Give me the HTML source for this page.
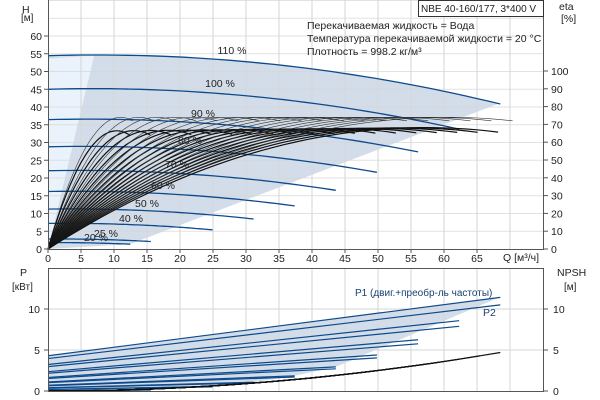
<!DOCTYPE html>
<html><head><meta charset="utf-8"><style>
body{margin:0;background:#fff;}
svg{display:block;font-family:"Liberation Sans",sans-serif;}
text{font-size:10.5px;fill:#222;}
</style></head><body>
<svg id="s" width="600" height="400" viewBox="0 0 600 400" xmlns="http://www.w3.org/2000/svg"></svg>
<script>
const S=document.getElementById('s');
let h='';
const X=q=>48+q*6.6, Y=H=>249-H*3.55, E=e=>249-e*1.78, P=p=>391-p*8.2;
const Hf=(q,s)=>s*s*45+0.05*s*q-0.0037*q*q;
const sp=[1.1,1,0.9,0.8,0.7,0.6,0.5,0.4,0.25,0.2];
let poly=[];
for(let q=0;q<=68.5;q+=1)poly.push([X(q),Y(Hf(q,1.1))]);
poly.push([X(68.3),Y(Hf(68.3,1.1))]);
poly.push([X(12.4),Y(Hf(12.4,0.2))]);
poly.push([X(0),Y(0)]);
h+=`<polygon points="${poly.map(p=>p.join(',')).join(' ')}" fill="#d2dde9"/>`;
h+=`<polygon points="${X(0)},${Y(0)} ${X(0)},${Y(53.6)} ${X(7)},${Y(54.5)}" fill="#eaf3fc"/>`;
for(let q=5;q<=70;q+=5)h+=`<line x1="${X(q)}" y1="0" x2="${X(q)}" y2="249" stroke="#d6d6d6"/>`;
for(let H=5;H<=70;H+=5)h+=`<line x1="48" y1="${Y(H)}" x2="543" y2="${Y(H)}" stroke="#d6d6d6" stroke-opacity="0.7"/>`;
sp.forEach(s=>{let d='';const qe=62.3*s;for(let i=0;i<=40;i++){const q=qe*i/40;d+=(i?'L':'M')+X(q).toFixed(1)+','+Y(Hf(q,s)).toFixed(1);}
h+=`<path d="${d}" fill="none" stroke="#0d4a8c" stroke-width="1.3"/>`;});
for(let s=0.2;s<=1.101;s+=0.05){
 [[74,0.6,'#333'],[66+2*s,1.2,'#111']].forEach(([em,w,c],k)=>{
  const qp=(k?52:55)*s, qe=(k?62:64)*s;let d='';
  for(let i=0;i<=40;i++){const q=qe*i/40;const t=q/qp;const e=em*(1-(1-t)*(1-t));d+=(i?'L':'M')+X(q).toFixed(1)+','+E(e).toFixed(1);}
  h+=`<path d="${d}" fill="none" stroke="${c}" stroke-width="${w}"/>`;});
}
h+=`<line x1="48.5" y1="0" x2="48.5" y2="249" stroke="#555"/><line x1="48" y1="249.5" x2="544" y2="249.5" stroke="#555"/><line x1="543.5" y1="0" x2="543.5" y2="249" stroke="#555"/>`;
for(let q=0;q<=65;q+=5){h+=`<line x1="${X(q)}" y1="249" x2="${X(q)}" y2="253" stroke="#555"/><text x="${X(q)}" y="262" text-anchor="middle">${q}</text>`;}
for(let H=0;H<=60;H+=5){h+=`<line x1="44" y1="${Y(H)}" x2="48" y2="${Y(H)}" stroke="#555"/><text x="42" y="${Y(H)+4}" text-anchor="end">${H}</text>`;}
for(let e=0;e<=100;e+=10){h+=`<line x1="543" y1="${E(e)}" x2="548" y2="${E(e)}" stroke="#555"/><text x="551" y="${E(e)+4}">${e}</text>`;}
h+=`<text x="22" y="13">H</text><text x="21" y="21" style="font-size:10px">[м]</text>`;
h+=`<text x="559" y="10">eta</text><text x="561" y="22">[%]</text>`;
h+=`<text x="503" y="261">Q [м³/ч]</text>`;
h+=`<rect x="418.5" y="0.5" width="125" height="16" fill="#fff" stroke="#333"/><text x="421" y="12" style="font-size:10px">NBE 40-160/177, 3*400 V</text>`;
h+=`<text x="307" y="29">Перекачиваемая жидкость = Вода</text><text x="307" y="42">Температура перекачиваемой жидкости = 20 °C</text><text x="307" y="55">Плотность = 998.2 кг/м³</text>`;
[['110 %',232,50],['100 %',220,83],['90 %',203,113],['80 %',190,140],['70 %',177,164],['60 %',163,185],['50 %',147,203],['40 %',131,218],['25 %',106,233],['20 %',96,237]].forEach(([t,x,y])=>h+=`<text x="${x}" y="${y+4}" text-anchor="middle">${t}</text>`);
const P1=(q,s)=>s*s*s*(3.23+0.0858*q/s);
let bp=[];for(let q=0;q<=68.5;q+=2)bp.push([X(q),P(P1(q,1.1))]);
bp.push([X(68.3),P(P1(68.3,1.1))]);
[0.7,0.6,0.5,0.4,0.25,0.2].forEach(s=>bp.push([X(62.3*s),P(P1(62.3*s,s))]));
bp.push([X(0),P(0)]);
h+=`<polygon points="${bp.map(p=>p.join(',')).join(' ')}" fill="#d2dde9"/>`;
for(let q=5;q<=70;q+=5)h+=`<line x1="${X(q)}" y1="268" x2="${X(q)}" y2="391" stroke="#d6d6d6"/>`;
for(let p=5;p<=14;p+=5)h+=`<line x1="48" y1="${P(p)}" x2="543" y2="${P(p)}" stroke="#d6d6d6"/>`;
sp.forEach(s=>{const qe=62.3*s;[1,0.92].forEach(f=>{h+=`<line x1="${X(0)}" y1="${P(P1(0,s)*f)}" x2="${X(qe)}" y2="${P(P1(qe,s)*f)}" stroke="#0d4a8c" stroke-width="1.2"/>`;});});
for(let s=0.2;s<=1.101;s+=0.05){const qe=62.3*s;let d='';for(let i=0;i<=20;i++){const q=qe*i/20;d+=(i?'L':'M')+X(q).toFixed(1)+','+P(0.001*q*q).toFixed(1);}h+=`<path d="${d}" fill="none" stroke="#111" stroke-width="1.2"/>`;}
h+=`<line x1="48.5" y1="268" x2="48.5" y2="392" stroke="#555"/><line x1="48" y1="268.5" x2="544" y2="268.5" stroke="#555"/><line x1="543.5" y1="268" x2="543.5" y2="392" stroke="#555"/><line x1="48" y1="391.5" x2="544" y2="391.5" stroke="#555"/>`;
[0,5,10].forEach(p=>{h+=`<line x1="44" y1="${P(p)}" x2="48" y2="${P(p)}" stroke="#555"/><text x="40" y="${P(p)+4}" text-anchor="end">${p}</text><line x1="543" y1="${P(p)}" x2="548" y2="${P(p)}" stroke="#555"/><text x="553" y="${P(p)+4}">${p}</text>`;});
h+=`<text x="20" y="276">P</text><text x="12" y="290" style="font-size:10px">[кВт]</text>`;
h+=`<text x="557" y="276">NPSH</text><text x="564" y="290" style="font-size:10px">[м]</text>`;
h+=`<text x="355" y="296" style="fill:#1a3f70;font-size:10px">P1 (двиг.+преобр-ль частоты)</text><text x="483" y="316" style="fill:#1a3f70">P2</text>`;
S.innerHTML=h;
</script>
</body></html>
